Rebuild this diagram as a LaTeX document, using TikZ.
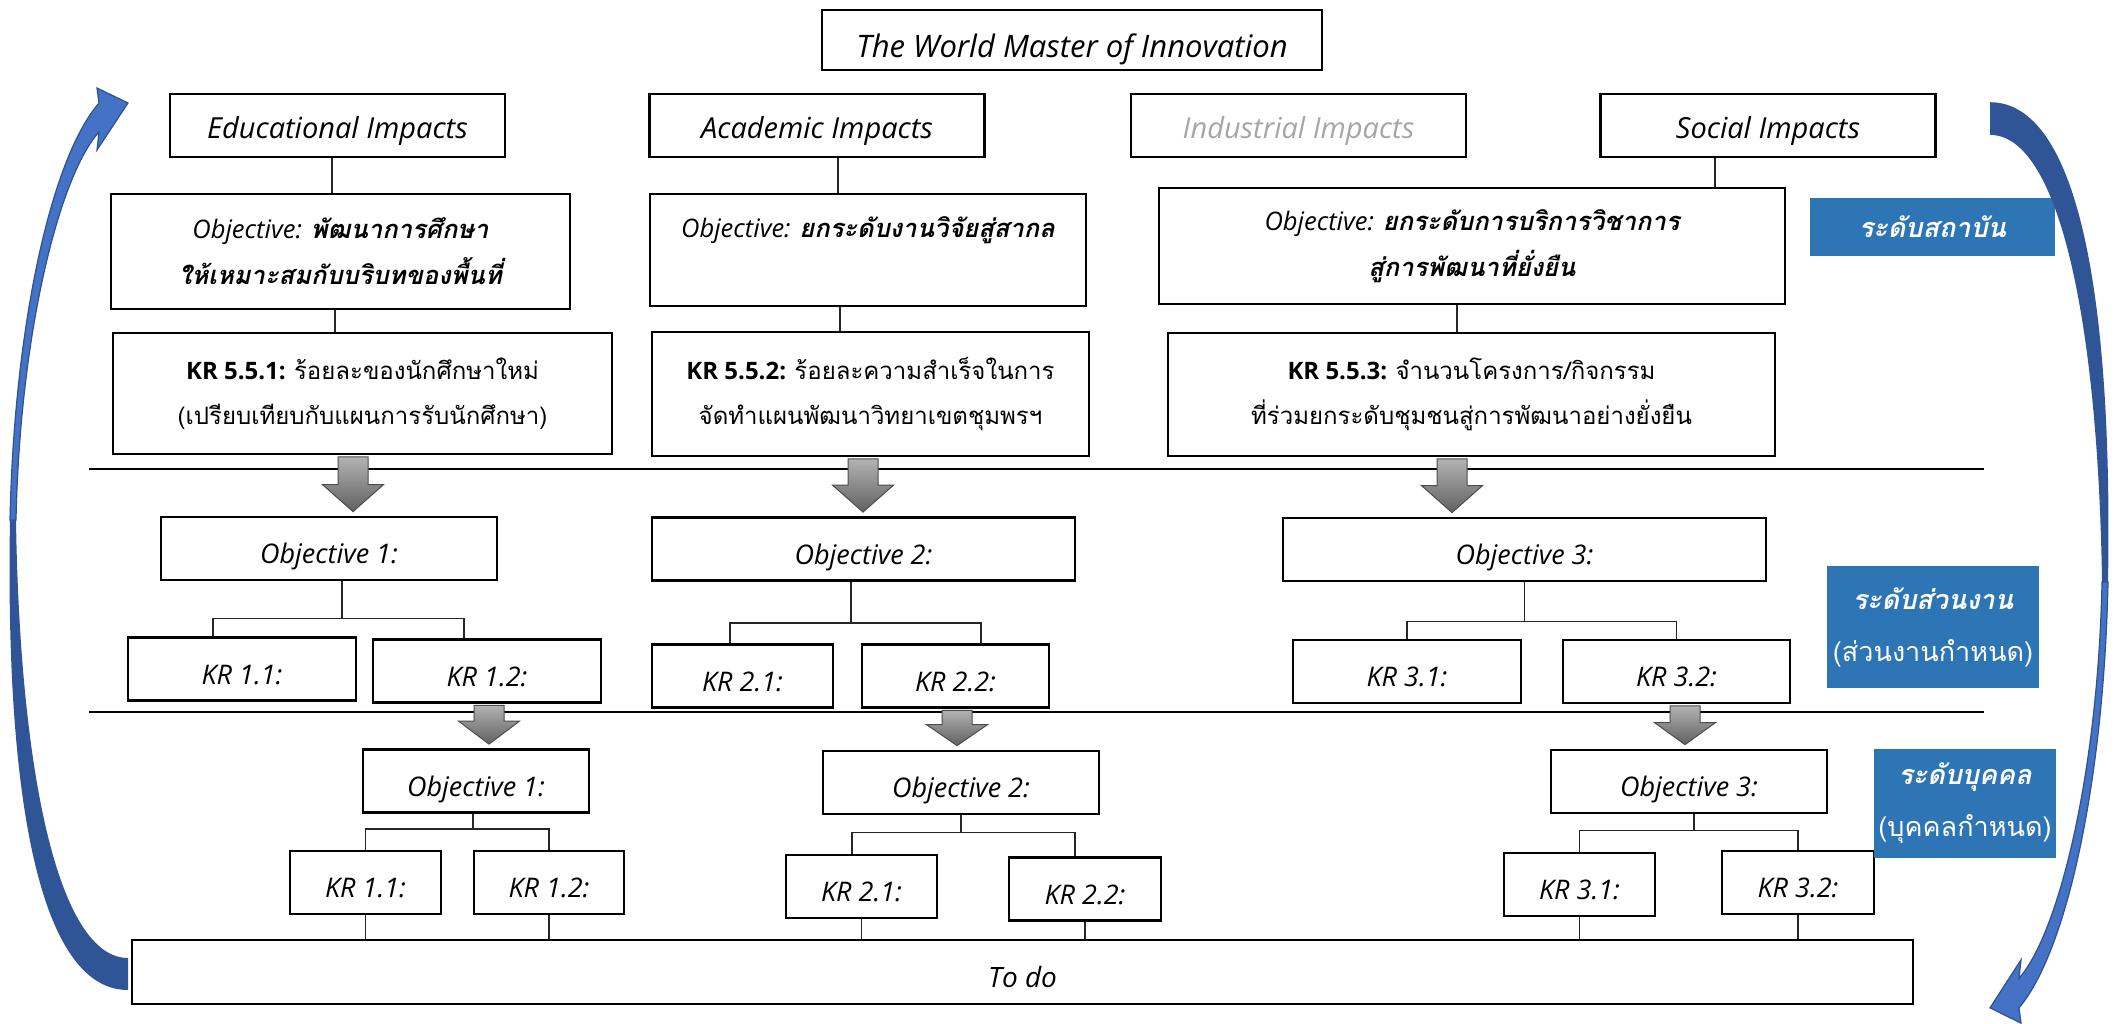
\documentclass[tikz,border=0pt]{standalone}
\usepackage{fontspec}
\usetikzlibrary{calc}
\setmainfont{Open Sans}
\newfontfamily\thai[Script=Thai]{Loma}
\definecolor{tierblue}{HTML}{2E75B6}
\definecolor{arrlight}{HTML}{4472C4}
\definecolor{arrdark}{HTML}{2F5597}
\definecolor{arrline}{HTML}{2F528F}

% gray block arrow: from node, to node, x position, head length
\newcommand\grayarr[4]{%
  \path (#1.south -| #3,0) ++(0,1.4) coordinate (ga) (#2.north -| #3,0) ++(0,-4) coordinate (gb);
  \draw[grayfill] ($(ga)+(-15,0)$) -- ($(gb)+(-15,-#4)$) -- ($(gb)+(-30.5,-#4)$) -- (gb)
    -- ($(gb)+(30.5,-#4)$) -- ($(gb)+(15,-#4)$) -- ($(ga)+(15,0)$) -- cycle;}

% curved blue arrow (left one, the right one is the same turned round)
\newcommand\loopArrow{%
  \fill[arrdark] (10,520) .. controls (5,800) and (40,990) .. (128,990) -- (128,958)
    .. controls (60,958) and (20,780) .. (16,520) -- cycle;
  \filldraw[fill=arrlight,draw=arrline,line width=1.2] (10,520) .. controls (14,330) and (50,160) .. (99,103)
    -- (97,88) -- (128,103) -- (97,150) -- (99,132) .. controls (60,175) and (20,330) .. (16,520) -- cycle;}

\begin{document}
\begin{tikzpicture}[x=1pt,y=-1pt,
    box/.style={draw,line width=2.8,fill=white,inner sep=0pt,align=center},
    impact/.style={box,minimum width=335,minimum height=63,text height=34,text depth=7,font=\fontsize{29}{34}\selectfont\itshape},
    objbox/.style={box,font=\fontsize{25.5}{46}\selectfont\itshape},
    krbox/.style={box,font=\fontsize{24}{45}\selectfont},
    obox/.style={box,minimum height=63,text height=37,text depth=7,font=\fontsize{27}{32}\selectfont\itshape},
    tierlabel/.style={fill=tierblue,text=white,inner sep=0pt,align=center,font=\fontsize{27}{52}\selectfont\thai},
    conn/.style={line width=1.3,black!85},
    divider/.style={line width=2.6},
    grayfill/.style={top color=black!30,bottom color=black!62,draw=black!70,line width=1}]
  \useasboundingbox (0,0) rectangle (2127,1024);

  % top level
  \node[box,minimum width=500,minimum height=60,text height=43,text depth=8,font=\fontsize{31}{36}\selectfont\itshape] (world) at (1072,40) {The World Master of Innovation};
  \node[impact] (edu) at (337.5,125.5) {Educational Impacts};
  \node[impact] (aca) at (817,125.5) {Academic Impacts};
  \node[impact,text=black!35] (ind) at (1298.5,125.5) {Industrial Impacts};
  \node[impact] (soc) at (1768,125.5) {Social Impacts};

  \node[objbox,minimum width=459,minimum height=115] (eobj) at (340.5,251.5) {Objective: {\thai\bfseries พัฒนาการศึกษา}\\{\thai\bfseries ให้เหมาะสมกับบริบทของพื้นที่}};
  \node[objbox,minimum width=436,minimum height=112] (aobj) at (868,250) {Objective: {\thai\bfseries ยกระดับงานวิจัยสู่สากล}\\\mbox{}};
  \node[objbox,minimum width=626,minimum height=116] (sobj) at (1472,246) {Objective: {\thai\bfseries ยกระดับการบริการวิชาการ}\\{\thai\bfseries สู่การพัฒนาที่ยั่งยืน}};

  \node[krbox,minimum width=499,minimum height=121] (ekr) at (362.5,393.5) {\textbf{KR 5.5.1:} {\thai ร้อยละของนักศึกษาใหม่}\\{\thai (เปรียบเทียบกับแผนการรับนักศึกษา)}};
  \node[krbox,minimum width=437,minimum height=124] (akr) at (870.5,394) {\textbf{KR 5.5.2:} {\thai ร้อยละความสำเร็จในการ}\\{\thai จัดทำแผนพัฒนาวิทยาเขตชุมพรฯ}};
  \node[krbox,minimum width=607,minimum height=123] (skr) at (1471.5,394.5) {\textbf{KR 5.5.3:} {\thai จำนวนโครงการ/กิจกรรม}\\{\thai ที่ร่วมยกระดับชุมชนสู่การพัฒนาอย่างยั่งยืน}};

  \draw[conn] (edu.south -| 332,0) -- (eobj.north -| 332,0);
  \draw[conn] (eobj.south -| 335,0) -- (ekr.north -| 335,0);
  \draw[conn] (aca.south -| 838,0) -- (aobj.north -| 838,0);
  \draw[conn] (aobj.south -| 840,0) -- (akr.north -| 840,0);
  \draw[conn] (soc.south -| 1715,0) -- (sobj.north -| 1715,0);
  \draw[conn] (sobj.south -| 1457,0) -- (skr.north -| 1457,0);

  \draw[divider] (89,469) -- (1984,469);
  \draw[divider] (89,712) -- (1984,712);

  % unit level
  \node[obox,minimum width=336] (o1) at (329,548.5) {Objective 1:};
  \node[obox,minimum width=423] (o2) at (863.5,549) {Objective 2:};
  \node[obox,minimum width=483] (o3) at (1524.5,549.5) {Objective 3:};
  \node[obox,minimum width=228] (k11) at (242,669) {KR 1.1:};
  \node[obox,minimum width=228] (k12) at (487,671) {KR 1.2:};
  \node[obox,minimum width=181] (k21) at (742.5,676) {KR 2.1:};
  \node[obox,minimum width=187] (k22) at (955.5,676) {KR 2.2:};
  \node[obox,minimum width=228] (k31) at (1407,671.5) {KR 3.1:};
  \node[obox,minimum width=227] (k32) at (1676.5,671.5) {KR 3.2:};

  \draw[conn] ([xshift=13]o1.south) -- ++(0,37) coordinate (b1);
  \draw[conn] ([xshift=-29]k11.north) |- (b1) -| ([xshift=-23]k12.north);
  \draw[conn] ([xshift=-12.5]o2.south) -- ++(0,41) coordinate (b2);
  \draw[conn] ([xshift=-12.5]k21.north) |- (b2) -| ([xshift=25.5]k22.north);
  \draw[conn] (o3.south) -- ++(0,39) coordinate (b3);
  \draw[conn] (k31.north) |- (b3) -| (k32.north);

  % person level
  \node[obox,minimum width=226] (p1) at (476,781) {Objective 1:};
  \node[obox,minimum width=276] (p2) at (961,782.5) {Objective 2:};
  \node[obox,minimum width=276] (p3) at (1689,781.5) {Objective 3:};
  \node[obox,minimum width=151] (l11) at (365.5,882.5) {KR 1.1:};
  \node[obox,minimum width=150] (l12) at (549,882.5) {KR 1.2:};
  \node[obox,minimum width=151] (l21) at (861.5,886.5) {KR 2.1:};
  \node[obox,minimum width=152] (l22) at (1085,889) {KR 2.2:};
  \node[obox,minimum width=151] (l31) at (1579.5,884.5) {KR 3.1:};
  \node[obox,minimum width=152] (l32) at (1798,882.5) {KR 3.2:};

  \draw[conn] ([xshift=-3]p1.south) -- ++(0,15) coordinate (c1);
  \draw[conn] (l11.north) |- (c1) -| (l12.north);
  \draw[conn] (p2.south) -- ++(0,17) coordinate (c2);
  \draw[conn] ([xshift=-9.5]l21.north) |- (c2) -| ([xshift=-10]l22.north);
  \draw[conn] ([xshift=5]p3.south) -- ++(0,16) coordinate (c3);
  \draw[conn] (l31.north) |- (c3) -| (l32.north);

  \node[obox,minimum width=1781,minimum height=64,font=\fontsize{28}{32}\selectfont\itshape] (todo) at (1022.5,972) {To do};
  \foreach \n in {l11,l12,l21,l22,l31,l32}
    \draw[conn] (\n) -- (\n |- todo.north);

  % block arrows between levels
  \grayarr{ekr}{o1}{353}{27}
  \grayarr{akr}{o2}{863}{27}
  \grayarr{skr}{o3}{1452}{27}
  \grayarr{k12}{p1}{489}{23}
  \grayarr{k22}{p2}{957}{21}
  \grayarr{k32}{p3}{1685}{22}

  % level labels
  \node[tierlabel,minimum width=245,minimum height=58] (inst) at (1932.5,227) {\bfseries\itshape ระดับสถาบัน};
  \node[tierlabel,minimum width=212,minimum height=122] (unit) at (1933,627) {{\bfseries\itshape ระดับส่วนงาน}\\(ส่วนงานกำหนด)};
  \node[tierlabel,minimum width=182,minimum height=109] (pers) at (1965,803.5) {{\bfseries\itshape ระดับบุคคล}\\(บุคคลกำหนด)};

  % cycle arrows
  \loopArrow
  \begin{scope}[shift={(2118,1113)},xscale=-1,yscale=-1.021]
    \loopArrow
  \end{scope}
\end{tikzpicture}
\end{document}
